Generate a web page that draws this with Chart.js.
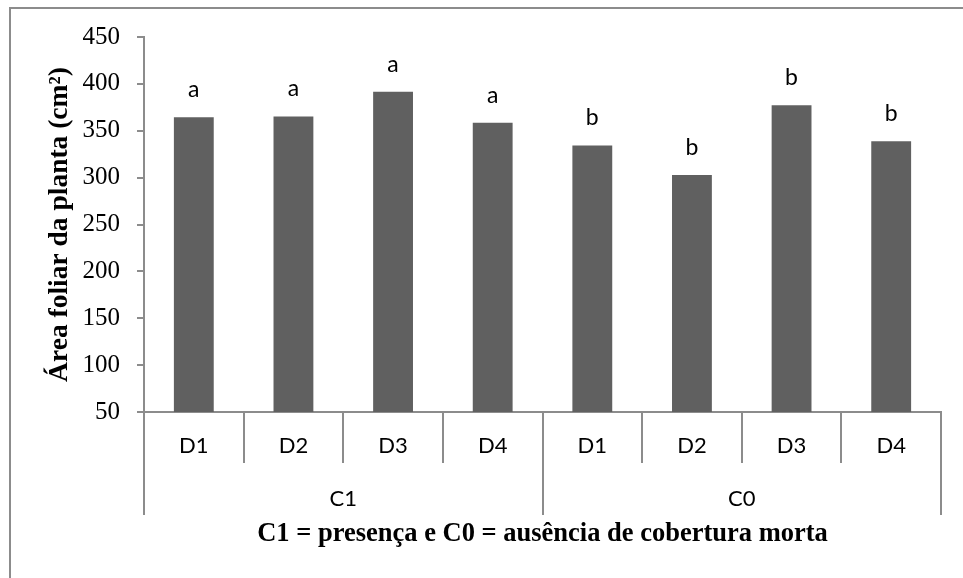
<!DOCTYPE html>
<html>
<head>
<meta charset="utf-8">
<script src="https://cdn.jsdelivr.net/npm/chart.js@4/dist/chart.umd.min.js"></script>
<style>
  html, body { margin: 0; padding: 0; background: #fff; }
  #wrap { position: relative; width: 963px; height: 578px; overflow: hidden; }
  #frame { position: absolute; left: 9px; top: 7px; width: 1000px; height: 600px;
           border-top: 2px solid #8c8c8c; border-left: 2px solid #8c8c8c; }
  canvas { position: absolute; left: 0; top: 0; }
</style>
</head>
<body>
<div id="wrap">
  <div id="frame"></div>
  <canvas id="c" width="963" height="578"></canvas>
</div>
<script>
// ---- data ----
const doseLabels = ['D1', 'D2', 'D3', 'D4', 'D1', 'D2', 'D3', 'D4'];
const coverLabels = ['C1', 'C0'];
const leafArea = [364.5, 365.3, 391.5, 358.5, 334.3, 302.7, 377.3, 338.9];
const letters = ['a', 'a', 'a', 'a', 'b', 'b', 'b', 'b'];
const yTitle = 'Área foliar da planta (cm²)';
const xTitle = 'C1 = presença e C0 = ausência de cobertura morta';

const axisColor = '#8c8c8c';
const padLeft = 20;

const letterPlugin = {
  id: 'letters',
  afterDatasetsDraw(chart) {
    const ctx = chart.ctx;
    const meta = chart.getDatasetMeta(0);
    ctx.save();
    ctx.font = '23px Lato';
    ctx.fillStyle = '#000';
    ctx.textAlign = 'center';
    ctx.textBaseline = 'alphabetic';
    meta.data.forEach((bar, i) => {
      ctx.fillText(letters[i], bar.x, bar.y - 20);
    });
    ctx.restore();
  }
};

new Chart(document.getElementById('c'), {
  type: 'bar',
  data: {
    labels: doseLabels,
    datasets: [{
      data: leafArea,
      backgroundColor: '#606060',
      borderWidth: 0,
      barPercentage: 0.4,
      categoryPercentage: 1.0
    }]
  },
  options: {
    responsive: false,
    animation: false,
    events: [],
    layout: { padding: { left: padLeft, right: 22, top: 37, bottom: 25 } },
    plugins: { legend: { display: false }, tooltip: { enabled: false }, title: { display: false } },
    scales: {
      y: {
        min: 50, max: 450,
        ticks: { stepSize: 50, color: '#000', padding: 17,
                 font: { family: 'Liberation Serif', size: 25 } },
        grid: { drawOnChartArea: false, drawTicks: true, tickLength: 7, color: axisColor, lineWidth: 2 },
        border: { display: true, color: axisColor, width: 2 },
        title: { display: true, text: yTitle, color: '#000',
                 font: { family: 'Liberation Serif', size: 27.5, weight: 'bold' },
                 padding: { top: 23, bottom: 0 } },
        afterFit(scale) { scale.width = 144 - padLeft; }
      },
      x: {
        type: 'category',
        position: 'bottom',
        weight: 0,
        offset: true,
        ticks: { color: '#000', padding: -30, maxRotation: 0, autoSkip: false,
                 font: { family: 'Lato', size: 22 } },
        grid: { offset: true, drawOnChartArea: false, drawTicks: true, tickLength: 51, color: axisColor, lineWidth: 2 },
        border: { display: true, color: axisColor, width: 2 },
        afterFit(scale) { scale.height = 51; }
      },
      x2: {
        type: 'category',
        position: 'bottom',
        weight: 1,
        labels: coverLabels,
        offset: true,
        ticks: { color: '#000', padding: -29, maxRotation: 0, autoSkip: false,
                 font: { family: 'Lato', size: 22 } },
        grid: { offset: true, drawOnChartArea: false, drawTicks: true, tickLength: 52, color: axisColor, lineWidth: 2 },
        border: { display: false },
        title: { display: true, text: xTitle, color: '#000',
                 font: { family: 'Liberation Serif', size: 26.5, weight: 'bold' },
                 padding: { top: 0, bottom: 3 } },
        afterFit(scale) { scale.height = 90; }
      }
    }
  },
  plugins: [letterPlugin]
});
</script>
</body>
</html>
